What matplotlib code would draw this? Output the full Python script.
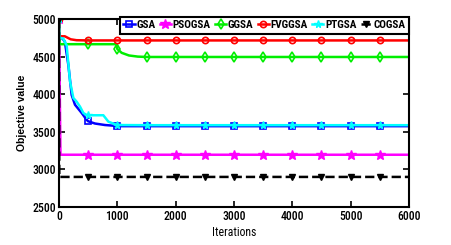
import matplotlib
matplotlib.use("Agg")
import matplotlib.pyplot as plt

narrow = "Roboto Condensed"

# ---- data ----
gsa_x = [0, 10, 60, 100, 160, 217, 274, 389, 474, 500, 617, 789, 989, 1000, 1500, 2000, 2500, 3000, 3500, 4000, 4500, 5000, 5500, 6000]
gsa_y = [5000, 4750, 4740, 4700, 4390, 3990, 3860, 3750, 3660, 3640, 3610, 3590, 3578, 3575, 3575, 3575, 3575, 3575, 3575, 3575, 3575, 3575, 3575, 3575]

pso_x = [0, 25, 500, 1000, 1500, 2000, 2500, 3000, 3500, 4000, 4500, 5000, 5500, 6000]
pso_y = [5000, 3195, 3195, 3195, 3195, 3195, 3195, 3195, 3195, 3195, 3195, 3195, 3195, 3195]

ggsa_x = [0, 10, 500, 980, 1000, 1075, 1200, 1350, 1500, 2000, 2500, 3000, 3500, 4000, 4500, 5000, 5500, 6000]
ggsa_y = [5000, 4665, 4665, 4665, 4600, 4550, 4515, 4500, 4495, 4495, 4495, 4495, 4495, 4495, 4495, 4495, 4495, 4495]

fvg_x = [0, 10, 100, 200, 300, 500, 1000, 1500, 2000, 2500, 3000, 3500, 4000, 4500, 5000, 5500, 6000]
fvg_y = [5000, 4770, 4770, 4730, 4718, 4715, 4715, 4715, 4715, 4715, 4715, 4715, 4715, 4715, 4715, 4715, 4715]

pt_x = [0, 10, 74, 131, 189, 246, 303, 360, 417, 474, 500, 760, 846, 960, 1000, 1500, 2000, 2500, 3000, 3500, 4000, 4500, 5000, 5500, 6000]
pt_y = [5000, 4750, 4740, 4650, 4170, 3950, 3900, 3835, 3750, 3723, 3720, 3720, 3635, 3600, 3590, 3588, 3588, 3588, 3588, 3588, 3588, 3588, 3588, 3588, 3588]

co_x = [0, 5, 500, 1000, 1500, 2000, 2500, 3000, 3500, 4000, 4500, 5000, 5500, 6000]
co_y = [5000, 2900, 2900, 2900, 2900, 2900, 2900, 2900, 2900, 2900, 2900, 2900, 2900, 2900]

labels = ["GSA", "PSOGSA", "GGSA", "FVGGSA", "PTGSA", "COGSA"]
x_ticks = [0, 1000, 2000, 3000, 4000, 5000, 6000]
y_ticks = [2500, 3000, 3500, 4000, 4500, 5000]

series = [
    (gsa_x, gsa_y, dict(color="#0000ff", marker="s", ls="-", mfc="none", ms=4, mew=1.2)),
    (pso_x, pso_y, dict(color="#ff00ff", marker="*", ls="-", mfc="#ff00ff", ms=7, mew=1.0)),
    (ggsa_x, ggsa_y, dict(color="#00ee00", marker="d", ls="-", mfc="none", ms=5.5, mew=1.2)),
    (fvg_x, fvg_y, dict(color="#ff0000", marker="o", ls="-", mfc="none", ms=4.5, mew=1.2)),
    (pt_x, pt_y, dict(color="#00ffff", marker="*", ls="-", mfc="none", ms=5.5, mew=1.0)),
    (co_x, co_y, dict(color="black", marker="v", ls="--", mfc="black", ms=4.5, mew=1.0)),
]

fig = plt.figure(figsize=(4.52, 2.45), dpi=100)
ax = fig.add_axes([59/452, 1-207/245, 350/452, 188/245])

for (xs, ys, st), lab in zip(series, labels):
    me = [i for i, v in enumerate(xs) if v % 500 == 0 and v < 6000]
    ax.plot(xs, ys, lw=1.8, markevery=me, label=lab, **st)

ax.set_xlim(0, 6000)
ax.set_ylim(2500, 5000)
ax.set_xticks(x_ticks)
ax.set_yticks(y_ticks)
ax.tick_params(direction="in", top=True, right=True, length=4, width=1.2, labelsize=8.5, pad=2)
for lbl in ax.get_xticklabels() + ax.get_yticklabels():
    lbl.set_family(narrow)
    lbl.set_weight(500)
for s in ax.spines.values():
    s.set_linewidth(1.5)

ax.set_xlabel("Iterations", fontsize=8.5, family=narrow, labelpad=2)
ax.set_ylabel("Objective value", fontsize=7.5, family="Liberation Sans", fontweight="bold", labelpad=4)

leg = ax.legend(loc="upper right", bbox_to_anchor=(409/452, 1-17/245), bbox_transform=fig.transFigure,
                ncol=6, handlelength=1.0, handletextpad=0.15, columnspacing=0.4,
                borderpad=0.3, borderaxespad=0, fancybox=False, framealpha=1, edgecolor="black",
                prop=dict(family=narrow, weight="bold", size=8))
leg.get_frame().set_linewidth(1.5)

fig.savefig("out.png", dpi=100)
